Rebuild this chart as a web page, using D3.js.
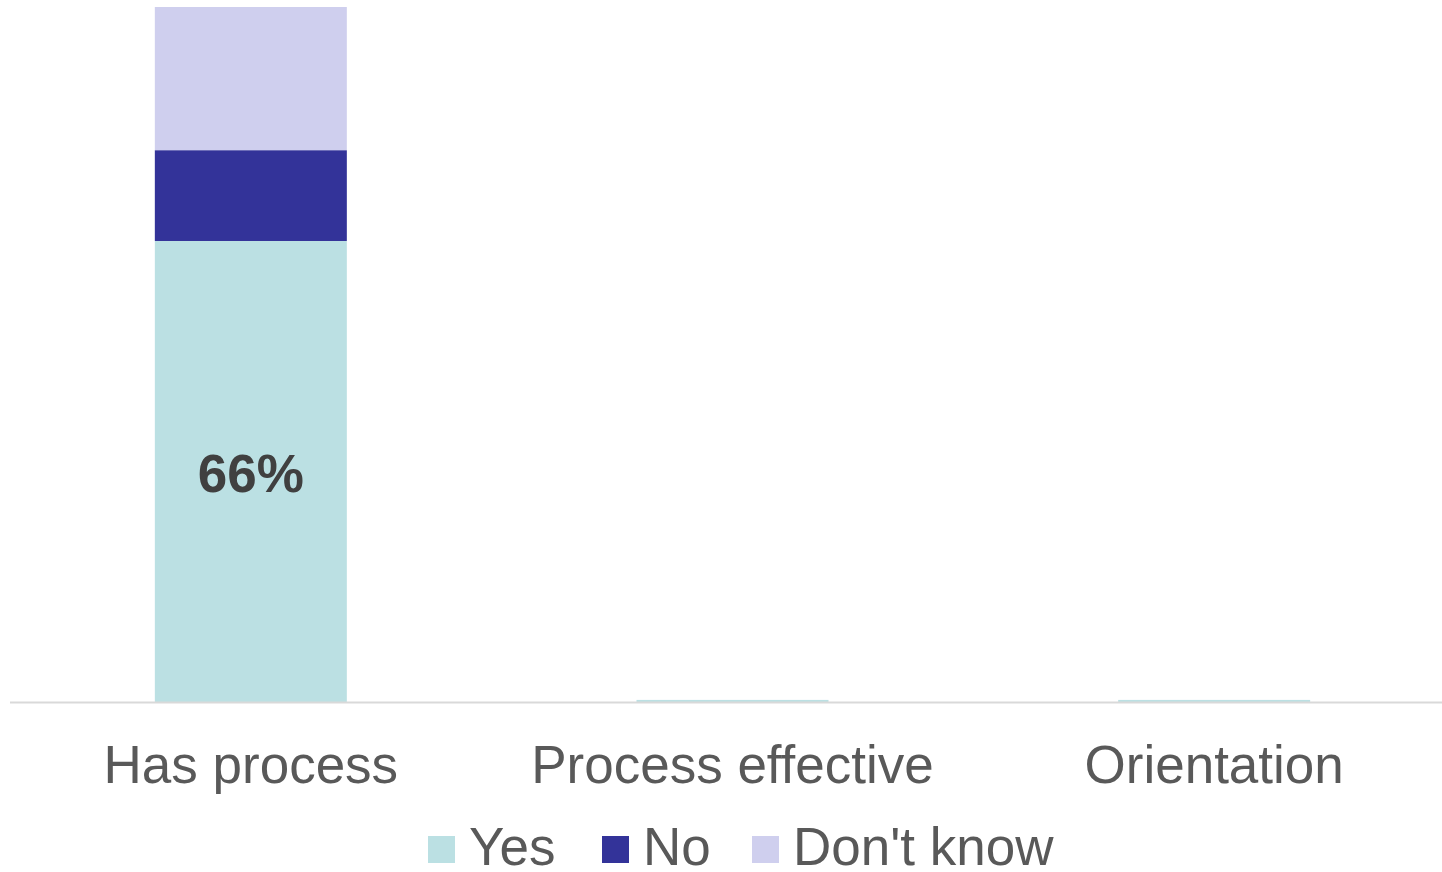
<!DOCTYPE html>
<html>
<head>
<meta charset="utf-8">
<script src="https://cdn.jsdelivr.net/npm/d3@7"></script>
<style>
  html, body { margin: 0; padding: 0; background: #ffffff; }
  svg { display: block; font-family: "Liberation Sans", Arial, sans-serif; }
</style>
</head>
<body>
<svg id="chart" width="1442" height="872"></svg>
<script>
// Survey responses, percent of respondents
const categories = ["Has process", "Process effective", "Orientation"];
const seriesNames = ["Yes", "No", "Don't know"];
const yesValues = [66, 0.3, 0.3];
const noValues = [13, 0, 0];
const dontKnowValues = [20.5, 0, 0];
const colors = ["#bbe0e3", "#333399", "#cfcfee"];
const yTicks = [0, 100];

const svg = d3.select("#chart");
const baseY = 702;
const pxPerPct = 6.985;

const x = d3.scaleBand().domain(categories).range([10, 1455]).paddingInner(0.6).paddingOuter(0.3);
const y = d3.scaleLinear().domain([yTicks[0], yTicks[1]]).range([baseY, baseY - pxPerPct * yTicks[1]]);

const rows = categories.map((c, i) => ({
  category: c,
  "Yes": yesValues[i],
  "No": noValues[i],
  "Don't know": dontKnowValues[i]
}));
const stacked = d3.stack().keys(seriesNames)(rows);

const bw = 192;
svg.append("g").selectAll("g")
  .data(stacked)
  .join("g")
  .attr("fill", (d, i) => colors[i])
  .selectAll("rect")
  .data(d => d)
  .join("rect")
  .attr("x", d => x(d.data.category) + x.bandwidth() / 2 - bw / 2)
  .attr("width", bw)
  .attr("y", d => y(d[1]))
  .attr("height", d => Math.max(0, y(d[0]) - y(d[1])));

// Baseline
svg.append("line")
  .attr("x1", 10).attr("x2", 1442)
  .attr("y1", baseY + 0.5).attr("y2", baseY + 0.5)
  .attr("stroke", "#d9d9d9").attr("stroke-width", 2);

// Category labels
const xAxis = d3.axisBottom(x).tickSize(0).tickPadding(0);
const gx = svg.append("g").attr("transform", `translate(0, ${baseY})`).call(xAxis);
gx.select(".domain").remove();
gx.selectAll("text")
  .attr("y", 0)
  .attr("dy", 0)
  .attr("transform", "translate(0, 81)")
  .attr("fill", "#595959")
  .style("font-size", "53px")
  .style("font-family", "'Liberation Sans', Arial, sans-serif");

// Data label on the large Yes segment
rows.forEach((r, i) => {
  if (r["Yes"] >= 5) {
    svg.append("text")
      .attr("x", x(r.category) + x.bandwidth() / 2)
      .attr("y", (y(0) + y(r["Yes"])) / 2 + 2)
      .attr("dy", "0.35em")
      .attr("text-anchor", "middle")
      .attr("fill", "#404040")
      .attr("font-weight", "bold")
      .attr("font-size", 53)
      .text(r["Yes"] + "%");
  }
});

// Legend
const legendItems = [
  { name: seriesNames[0], color: colors[0], x: 428 },
  { name: seriesNames[1], color: colors[1], x: 602 },
  { name: seriesNames[2], color: colors[2], x: 752 }
];
const lg = svg.append("g");
legendItems.forEach(it => {
  lg.append("rect")
    .attr("x", it.x).attr("y", 836)
    .attr("width", 27).attr("height", 27)
    .attr("fill", it.color);
  lg.append("text")
    .attr("x", it.x + 41).attr("y", 865)
    .attr("fill", "#595959")
    .attr("font-size", 53)
    .text(it.name);
});
</script>
</body>
</html>
